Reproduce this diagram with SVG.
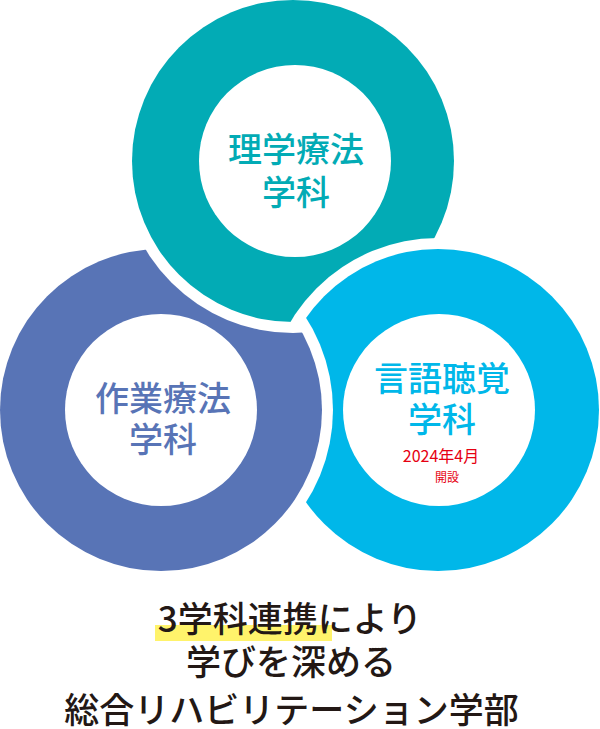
<svg xmlns="http://www.w3.org/2000/svg" width="600" height="729" viewBox="0 0 600 729">
<style>
.lbl{font-family:"Noto Sans CJK JP","Noto Sans",sans-serif;font-weight:500;text-anchor:middle}
.big{font-size:34px}
.foot{font-size:35px;fill:#231815}
.red{fill:#E60012;font-size:16px;font-weight:400}
.hole{fill:#fff}
</style>
<defs>
<mask id="mTeal" maskUnits="userSpaceOnUse" x="0" y="0" width="600" height="729">
<rect width="600" height="729" fill="#fff"/>
<circle cx="438" cy="410" r="172" fill="#000"/>
</mask>
<mask id="mPurple" maskUnits="userSpaceOnUse" x="0" y="0" width="600" height="729">
<rect width="600" height="729" fill="#fff"/>
<circle cx="293" cy="161" r="172" fill="#000"/>
</mask>
<mask id="mBlue" maskUnits="userSpaceOnUse" x="0" y="0" width="600" height="729">
<rect width="600" height="729" fill="#fff"/>
<circle cx="161" cy="410" r="172" fill="#000"/>
</mask>
</defs>
<rect width="600" height="729" fill="#fff"/>
<g id="pt">
<circle cx="293" cy="161" r="161" fill="#02ABB5" mask="url(#mTeal)"/>
<circle class="hole" cx="295" cy="161" r="96"/>
<text class="lbl big" fill="#02ABB5" x="296" y="162">理学療法</text>
<text class="lbl big" fill="#02ABB5" x="296" y="205">学科</text>
</g>
<g id="ot">
<circle cx="161" cy="410" r="161" fill="#5874B6" mask="url(#mPurple)"/>
<circle class="hole" cx="161" cy="410" r="96"/>
<text class="lbl big" fill="#5874B6" x="163" y="411">作業療法</text>
<text class="lbl big" fill="#5874B6" x="163" y="452">学科</text>
</g>
<g id="st">
<circle cx="438" cy="410" r="161" fill="#00B7E9" mask="url(#mBlue)"/>
<circle class="hole" cx="439" cy="410" r="96"/>
<text class="lbl big" fill="#00B7E9" x="442" y="391">言語聴覚</text>
<text class="lbl big" fill="#00B7E9" x="442" y="432">学科</text>
<text class="lbl red" x="441" y="462">2024年4月</text>
<text class="lbl red" x="447" y="482" style="font-size:12px">開設</text>
</g>
<g id="connectors"></g>
<g id="caption">
<rect x="155" y="625" width="177" height="16" fill="#FFF36B"/>
<text class="lbl foot" x="290" y="632">3学科連携により</text>
<text class="lbl foot" x="291" y="675">学びを深める</text>
<text class="lbl foot" x="291.5" y="723">総合リハビリテーション学部</text>
</g>
</svg>
